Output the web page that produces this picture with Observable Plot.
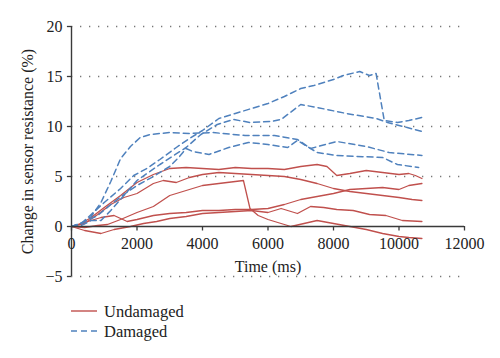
<!DOCTYPE html>
<html><head><meta charset="utf-8">
<script src="https://cdn.jsdelivr.net/npm/d3@7"></script>
<script src="https://cdn.jsdelivr.net/npm/@observablehq/plot@0.6"></script>
<style>
body{margin:0;background:#fff;font-family:"Liberation Serif",serif;}
#chart{position:absolute;left:0;top:0;}
#legend{position:absolute;left:0;top:290px;}
</style></head><body>
<div id="chart"></div>
<svg id="legend" width="500" height="68" font-family="Liberation Serif" font-size="16.5" fill="#222">
  <line x1="71" x2="97" y1="21" y2="21" stroke="#C0504D" stroke-width="1.4"/>
  <text x="104" y="26.5">Undamaged</text>
  <line x1="71" x2="97" y1="41" y2="41" stroke="#4F81BD" stroke-width="1.5" stroke-dasharray="6,4"/>
  <text x="104" y="46.5">Damaged</text>
</svg>
<script>
const xTicks = [0, 2000, 4000, 6000, 8000, 10000, 12000];
const yTicks = [-5, 0, 5, 10, 15, 20];
const xLabel = "Time (ms)";
const yLabel = "Change in sensor resistance (%)";

// Undamaged (red, solid) — [time ms, change %]
const undamaged1 = [[0,0],[300,0.3],[600,0.9],[1000,1.9],[1500,3.1],[2000,4.4],[2500,5.2],[3000,5.8],[3500,5.9],[4000,5.8],[4500,5.7],[5000,5.9],[5500,5.8],[6000,5.8],[6500,5.7],[7000,6.0],[7500,6.2],[7800,6.0],[8100,5.1],[8500,5.3],[9000,5.6],[9500,5.4],[10000,5.2],[10300,5.3],[10500,5.1],[10700,4.8]];
const undamaged2 = [[0,0],[400,0.3],[800,1.2],[1200,2.2],[1600,2.9],[2000,3.3],[2500,4.3],[2800,4.6],[3200,4.4],[3600,4.9],[4000,5.2],[4500,5.4],[5000,5.3],[5500,5.2],[6000,5.1],[6500,5.0],[7000,4.7],[7500,4.3],[8000,3.8],[8500,3.5],[9000,3.3],[9500,3.1],[10000,2.9],[10400,2.7],[10700,2.6]];
const undamaged3 = [[0,0],[400,-0.1],[800,0.1],[1100,0.2],[1500,0.7],[2000,1.4],[2500,2.0],[3000,3.1],[3500,3.6],[4000,4.1],[4500,4.3],[5000,4.5],[5250,4.6],[5450,1.8],[5700,1.1],[6000,0.7],[6300,0.4],[6700,0.0],[7100,0.3],[7500,0.6],[8000,0.3],[8500,0.0],[9000,-0.3],[9500,-0.7],[10000,-1.0],[10300,-1.1],[10700,-1.2]];
const undamaged4 = [[0,0],[400,0.4],[900,0.9],[1300,1.1],[1700,0.5],[2000,0.7],[2500,1.1],[3000,1.3],[3500,1.4],[4000,1.6],[4500,1.6],[5000,1.7],[5500,1.7],[6000,1.8],[6500,2.2],[7000,2.7],[7500,3.0],[8000,3.3],[8500,3.7],[9000,3.8],[9500,3.9],[10000,3.7],[10300,4.1],[10700,4.3]];
const undamaged5 = [[0,0],[400,-0.4],[900,-0.7],[1300,-0.3],[1800,0.0],[2200,0.3],[2600,0.5],[3000,0.8],[3500,1.0],[4000,1.3],[4500,1.4],[5000,1.5],[5500,1.6],[6000,1.4],[6400,1.8],[6900,1.3],[7300,2.0],[7700,1.9],[8100,1.7],[8600,1.6],[9100,1.2],[9600,1.1],[10100,0.6],[10700,0.5]];

// Damaged (blue, dashed)
const damaged1 = [[0,0],[300,0.3],[600,1.2],[1000,2.4],[1500,3.8],[1900,5.1],[2300,5.8],[2700,6.7],[3200,7.9],[3600,8.8],[4000,9.6],[4500,10.8],[5000,11.3],[5500,11.8],[6000,12.3],[6500,13.0],[7000,13.8],[7400,14.1],[8000,14.7],[8300,15.1],[8800,15.5],[9100,15.1],[9300,15.3],[9550,10.6],[9950,10.4],[10300,10.6],[10700,10.9]];
const damaged2 = [[0,0],[300,0.1],[600,0.6],[900,0.6],[1200,1.6],[1600,3.1],[2000,4.6],[2700,6.2],[3500,7.9],[3950,9.2],[4450,10.2],[4950,10.7],[5450,10.4],[6100,10.5],[6400,10.7],[7000,12.2],[7500,11.9],[8400,11.3],[9300,10.8],[9650,10.4],[10250,9.9],[10700,9.5]];
const damaged3 = [[0,0],[300,0.3],[600,1.0],[900,2.4],[1200,4.5],[1500,6.8],[1800,8.0],[2100,8.9],[2400,9.2],[3000,9.4],[3600,9.3],[4300,9.4],[5300,9.1],[6200,9.1],[6900,8.7],[7300,7.8],[8100,8.5],[9000,8.0],[9700,7.4],[10700,7.1]];
const damaged4 = [[0,0],[400,0.5],[800,1.1],[1200,2.2],[1600,3.2],[2000,4.1],[2500,5.0],[3000,6.0],[3300,7.0],[3500,7.8],[3700,7.5],[4200,7.2],[4800,7.9],[5400,8.4],[6000,8.2],[6600,7.9],[6900,8.6],[7500,7.4],[8100,7.1],[9500,6.9],[9950,6.2],[10600,5.9]];

const undamaged = [undamaged1, undamaged2, undamaged3, undamaged4, undamaged5];
const damaged = [damaged1, damaged2, damaged3, damaged4];

const toRows = (list, name) => list.flatMap((s, i) => s.map(([t, v]) => ({series: name + i, t, v})));
const uRows = toRows(undamaged, "U");
const dRows = toRows(damaged, "D");

const axisColor = "#3a3a3a";
const plot = Plot.plot({
  width: 500, height: 290,
  marginLeft: 71, marginRight: 36, marginTop: 26, marginBottom: 14,
  x: {domain: [0, 12000], axis: null},
  y: {domain: [-5, 20], axis: null},
  style: {fontFamily: "Liberation Serif", fontSize: "16px", color: "#222", background: "#fff"},
  marks: [
    Plot.ruleY(yTicks.filter(d => d !== 0), {y: d => d, x1: 0, x2: 11900, stroke: "#555", strokeWidth: 1.3, strokeDasharray: "1.3,7.7", strokeOpacity: 0.8}),
    Plot.line(uRows, {x: "t", y: "v", z: "series", stroke: "#C0504D", strokeWidth: 1.3, curve: "linear"}),
    Plot.line(dRows, {x: "t", y: "v", z: "series", stroke: "#4F81BD", strokeWidth: 1.5, strokeDasharray: "6,4"}),
    Plot.ruleY([0], {x1: 0, x2: 12000, stroke: axisColor, strokeWidth: 1.4}),
    Plot.ruleX([0], {y1: -5, y2: 20, stroke: axisColor, strokeWidth: 1.4}),
    Plot.ruleX(xTicks, {x: d => d, y1: 0, y2: -0.45, stroke: axisColor, strokeWidth: 1.3}),
    Plot.ruleY(yTicks, {y: d => d, x1: -125, x2: 0, stroke: axisColor, strokeWidth: 1.3}),
    Plot.text(xTicks, {x: d => d, y: 0, dy: 17, text: d => String(d), fill: "#222"}),
    Plot.text(yTicks, {x: 0, y: d => d, dx: -9, textAnchor: "end", text: d => d < 0 ? "\u2212" + Math.abs(d) : String(d), fill: "#222"}),
    Plot.text([xLabel], {x: 6000, y: 0, dy: 40, text: d => d, fill: "#222"}),
    Plot.text([yLabel], {frameAnchor: "left", rotate: -90, dx: -44, textAnchor: "middle", text: d => d, fill: "#222"})
  ]
});
document.getElementById("chart").appendChild(plot);
</script>
</body></html>
